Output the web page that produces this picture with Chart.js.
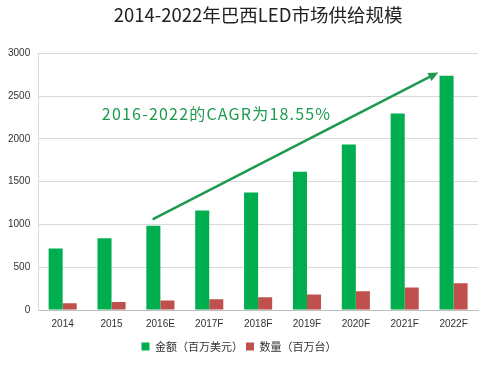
<!DOCTYPE html>
<html><head><meta charset="utf-8">
<script src="https://cdn.jsdelivr.net/npm/chart.js@4"></script>
<style>html,body{margin:0;padding:0;background:#fff}#w{width:500px;height:380px}</style>
</head><body><div id="w"><canvas id="c"></canvas></div>
<script>
const categories = ['2014','2015','2016E','2017F','2018F','2019F','2020F','2021F','2022F'];
const amountValues = [718, 838, 985, 1163, 1372, 1615, 1932, 2295, 2738];
const quantityValues = [78, 93, 112, 127, 150, 182, 220, 263, 313];
const seriesNames = ['金额（百万美元）', '数量（百万台）'];
const titleText = '2014-2022年巴西LED市场供给规模';
const yTicks = [0, 500, 1000, 1500, 2000, 2500, 3000];
const cagrText = '2016-2022的CAGR为18.55%';
const arrowFrom = [1.86, 1065];
const arrowTo = [7.69, 2775];
const cagrAnchor = [3.15, 2290];

function xAt(scale, v){
  const i = Math.floor(v), f = v - i;
  const p0 = scale.getPixelForValue(i);
  const p1 = scale.getPixelForValue(i + 1);
  return p0 + (p1 - p0) * f;
}
const annot = {
  id: 'annot',
  afterDatasetsDraw(chart){
    const {ctx, scales:{x, y}} = chart;
    const x1 = xAt(x, arrowFrom[0]), y1 = y.getPixelForValue(arrowFrom[1]);
    const x2 = xAt(x, arrowTo[0]), y2 = y.getPixelForValue(arrowTo[1]);
    ctx.save();
    ctx.strokeStyle = '#1e9a4f'; ctx.fillStyle = '#1e9a4f';
    ctx.lineWidth = 2.5; ctx.lineCap = 'round';
    const ang = Math.atan2(y2 - y1, x2 - x1);
    const hl = 11;
    ctx.beginPath(); ctx.moveTo(x1, y1);
    ctx.lineTo(x2 - Math.cos(ang) * hl * 0.8, y2 - Math.sin(ang) * hl * 0.8); ctx.stroke();
    ctx.beginPath();
    ctx.moveTo(x2, y2);
    ctx.lineTo(x2 - hl * Math.cos(ang - 0.42), y2 - hl * Math.sin(ang - 0.42));
    ctx.lineTo(x2 - hl * Math.cos(ang + 0.42), y2 - hl * Math.sin(ang + 0.42));
    ctx.closePath(); ctx.fill();
    ctx.font = '16px "Noto Sans CJK SC", "DejaVu Sans", sans-serif';
    ctx.textAlign = 'center'; ctx.textBaseline = 'middle';
    if ('letterSpacing' in ctx) ctx.letterSpacing = '1.2px';
    ctx.fillText(cagrText, xAt(x, cagrAnchor[0]), y.getPixelForValue(cagrAnchor[1]));
    ctx.restore();
  }
};

new Chart(document.getElementById('c'), {
  type: 'bar',
  data: {
    labels: categories,
    datasets: [
      {label: seriesNames[0], data: amountValues, backgroundColor: '#00ae4f', barPercentage: 1, categoryPercentage: 0.575},
      {label: seriesNames[1], data: quantityValues, backgroundColor: '#c0504d', barPercentage: 1, categoryPercentage: 0.575}
    ]
  },
  options: {
    responsive: true, maintainAspectRatio: false, animation: false,
    layout: {padding: {left: 0, right: 22, top: 0, bottom: 18}},
    plugins: {
      title: {display: true, text: titleText, color: '#222', fullSize: false,
        font: {size: 18.5, family: '"Noto Sans CJK SC", sans-serif', weight: 'normal'},
        padding: {top: 4, bottom: 27}},
      legend: {position: 'bottom',
        labels: {boxWidth: 8, boxHeight: 8, color: '#333', padding: 3,
          font: {size: 11, family: '"Noto Sans CJK SC", sans-serif'}}},
      tooltip: {enabled: false}
    },
    scales: {
      x: {grid: {display: false, drawTicks: false}, border: {color: '#bfbfbf'},
        ticks: {color: '#333', padding: 8, font: {size: 10, family: '"Liberation Sans", sans-serif'}}},
      y: {min: 0, max: 3000, afterBuildTicks(s){ s.ticks = yTicks.map(v => ({value: v})); },
        grid: {color: '#d9d9d9', drawTicks: false}, border: {color: '#d9d9d9'},
        ticks: {color: '#333', padding: 8, callback: v => String(v),
          font: {size: 10, family: '"Liberation Sans", sans-serif'}}}
    }
  },
  plugins: [annot]
});
</script></body></html>
